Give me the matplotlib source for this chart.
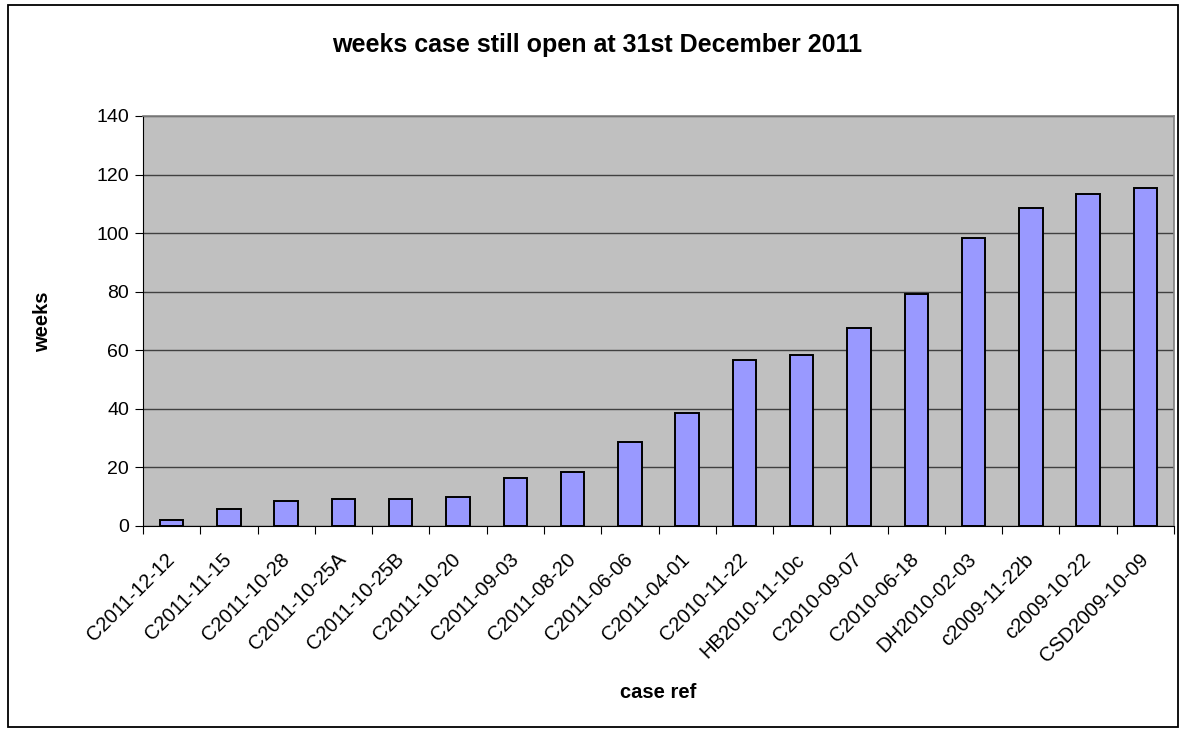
import matplotlib.pyplot as plt
from matplotlib.patches import Rectangle
from matplotlib.transforms import ScaledTranslation

# case references and weeks open
cases = ["C2011-12-12", "C2011-11-15", "C2011-10-28", "C2011-10-25A", "C2011-10-25B",
         "C2011-10-20", "C2011-09-03", "C2011-08-20", "C2011-06-06", "C2011-04-01",
         "C2010-11-22", "HB2010-11-10c", "C2010-09-07", "C2010-06-18", "DH2010-02-03",
         "c2009-11-22b", "c2009-10-22", "CSD2009-10-09"]
weeks = [2.0, 5.9, 8.6, 9.1, 9.1, 9.8, 16.3, 18.4, 28.7, 38.6,
         56.6, 58.3, 67.6, 79.1, 98.2, 108.7, 113.2, 115.3]
yticks = [0, 20, 40, 60, 80, 100, 120, 140]

plt.rcParams['font.family'] = ['Liberation Sans', 'DejaVu Sans']

W, H = 1188, 729
fig = plt.figure(figsize=(W / 100, H / 100), dpi=100)
# plot area in pixel coords: left 143, right 1174, top 116, bottom 526
ax = fig.add_axes([143 / W, 1 - 526 / H, (1174 - 143) / W, (526 - 116) / H])

# outer chart border
fig.patches.append(Rectangle((8 / W, 2 / H), 1170 / W, 722 / H,
                             transform=fig.transFigure, fill=False,
                             edgecolor='black', linewidth=1.3))

ax.set_facecolor('#C0C0C0')
x = list(range(len(cases)))
ax.bar(x, weeks, width=0.41, color='#9999FF', edgecolor='black', linewidth=1.4, zorder=3)

ax.set_xlim(-0.5, len(cases) - 0.5)
ax.set_ylim(0, 140)
ax.set_yticks(yticks)
ax.tick_params(axis='y', labelsize=14, length=6, direction='out', width=0.8, pad=4)
ax.yaxis.grid(True, color='#404040', linewidth=1.0, zorder=1)
ax.set_axisbelow(True)

# ticks between categories, labels at category centres
ax.set_xticks([i - 0.5 for i in range(len(cases) + 1)])
ax.set_xticklabels([])
ax.set_xticks(x, minor=True)
labels = ax.set_xticklabels(cases, minor=True, rotation=45, ha='right', va='center',
                            rotation_mode='anchor', fontsize=14.5)
shift = ScaledTranslation(-3 / 100, 0, fig.dpi_scale_trans)
for lab in labels:
    lab.set_transform(lab.get_transform() + shift)
ax.tick_params(axis='x', which='major', length=6, direction='out', width=0.8)
ax.tick_params(axis='x', which='minor', length=0, pad=22)

for side in ['top', 'right']:
    ax.spines[side].set_color('#808080')
    ax.spines[side].set_linewidth(1.2)
ax.spines['left'].set_linewidth(0.8)
ax.spines['bottom'].set_linewidth(0.8)

fig.text(597 / W, 1 - 45 / H, "weeks case still open at 31st December 2011",
         ha='center', va='center', fontsize=18, fontweight='bold')
fig.text(43 / W, 1 - 322 / H, "weeks", rotation=90, ha='center', va='center',
         fontsize=14.5, fontweight='bold')
fig.text(658 / W, 1 - 692 / H, "case ref", ha='center', va='center',
         fontsize=14.5, fontweight='bold')

plt.savefig('out.png', dpi=100)
